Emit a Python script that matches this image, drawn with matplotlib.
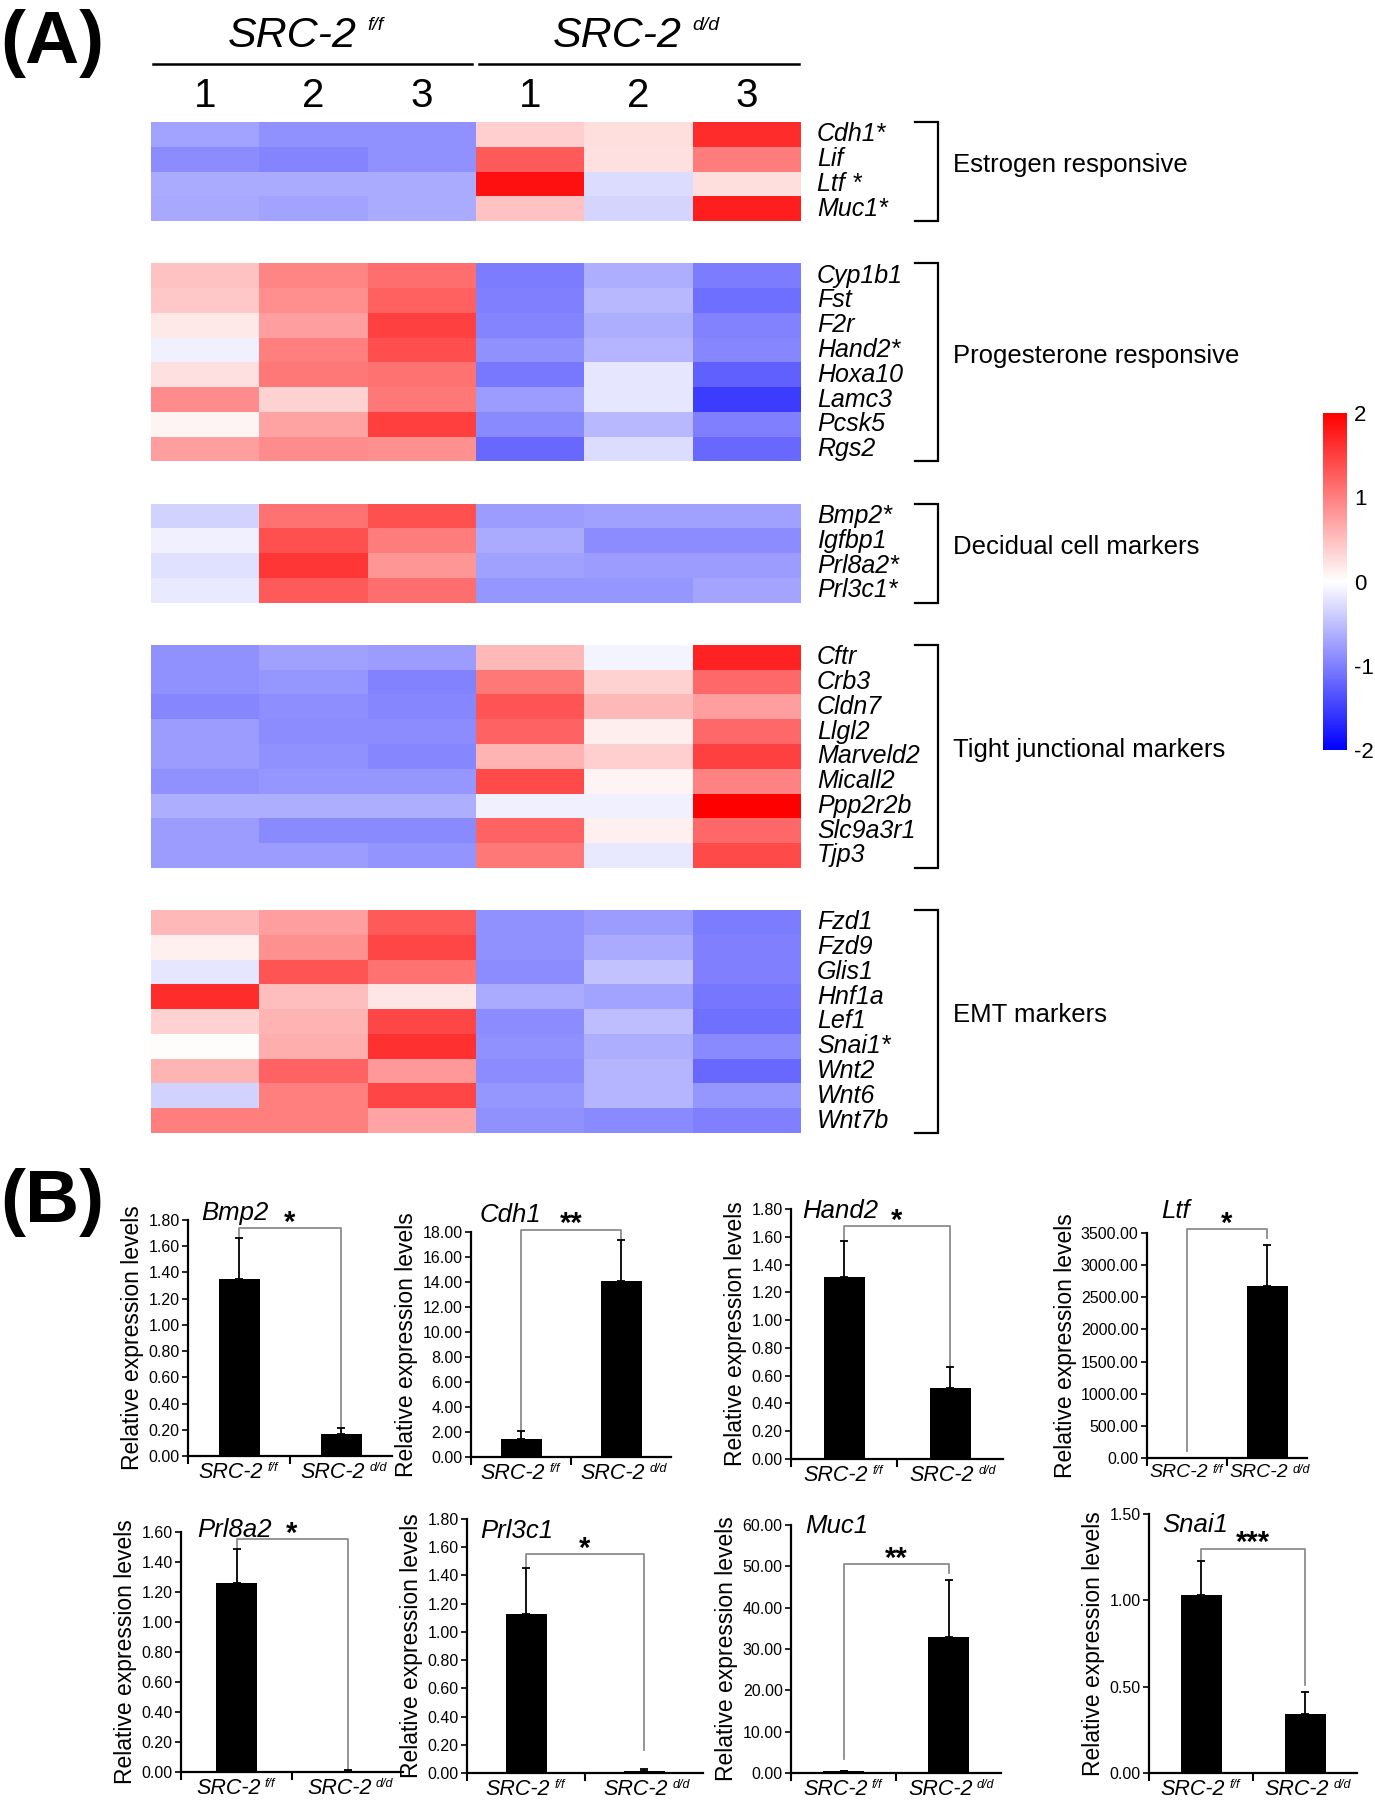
import numpy as np
import matplotlib
matplotlib.use('Agg')
import matplotlib.pyplot as plt
from matplotlib import transforms

plt.rcParams['font.family'] = ['Liberation Sans', 'DejaVu Sans']
plt.rcParams['axes.unicode_minus'] = False

# ---------------- data: heatmap (z-scores) ----------------
samples = ['1', '2', '3', '1', '2', '3']
groups = ['SRC-2', 'SRC-2']
group_sup = ['f/f', 'd/d']

estrogen_genes = ['Cdh1*', 'Lif', 'Ltf *', 'Muc1*']
estrogen_vals = [[-0.72, -0.86, -0.86, 0.38, 0.26, 1.65],
                 [-0.90, -0.96, -0.86, 1.29, 0.24, 1.02],
                 [-0.67, -0.67, -0.67, 1.86, -0.27, 0.26],
                 [-0.68, -0.72, -0.67, 0.47, -0.33, 1.76]]

progesterone_genes = ['Cyp1b1', 'Fst', 'F2r', 'Hand2*', 'Hoxa10', 'Lamc3', 'Pcsk5', 'Rgs2']
progesterone_vals = [[0.47, 0.96, 1.14, -1.02, -0.63, -1.02],
                     [0.43, 0.88, 1.24, -1.00, -0.55, -1.14],
                     [0.18, 0.75, 1.49, -0.96, -0.63, -0.98],
                     [-0.12, 1.00, 1.39, -0.86, -0.59, -0.94],
                     [0.24, 1.06, 1.10, -1.06, -0.20, -1.25],
                     [0.90, 0.35, 1.06, -0.78, -0.20, -1.53],
                     [0.08, 0.73, 1.51, -0.92, -0.55, -1.00],
                     [0.75, 0.90, 0.86, -1.18, -0.27, -1.18]]

decidual_genes = ['Bmp2*', 'Igfbp1', 'Prl8a2*', 'Prl3c1*']
decidual_vals = [[-0.35, 1.10, 1.37, -0.78, -0.75, -0.75],
                 [-0.12, 1.36, 1.02, -0.67, -0.90, -0.90],
                 [-0.24, 1.57, 0.82, -0.75, -0.78, -0.78],
                 [-0.16, 1.29, 1.14, -0.82, -0.82, -0.71]]

tight_genes = ['Cftr', 'Crb3', 'Cldn7', 'Llgl2', 'Marveld2', 'Micall2', 'Ppp2r2b', 'Slc9a3r1', 'Tjp3']
tight_vals = [[-0.86, -0.75, -0.78, 0.56, -0.08, 1.73],
              [-0.86, -0.82, -0.98, 1.06, 0.35, 1.18],
              [-0.94, -0.88, -0.94, 1.33, 0.55, 0.75],
              [-0.78, -0.90, -0.90, 1.22, 0.13, 1.18],
              [-0.78, -0.86, -0.94, 0.59, 0.39, 1.49],
              [-0.86, -0.82, -0.82, 1.41, 0.08, 0.98],
              [-0.63, -0.63, -0.63, -0.12, -0.12, 2.00],
              [-0.78, -0.92, -0.92, 1.22, 0.12, 1.18],
              [-0.78, -0.78, -0.84, 1.06, -0.18, 1.41]]

emt_genes = ['Fzd1', 'Fzd9', 'Glis1', 'Hnf1a', 'Lef1', 'Snai1*', 'Wnt2', 'Wnt6', 'Wnt7b']
emt_vals = [[0.56, 0.75, 1.29, -0.86, -0.78, -1.02],
            [0.12, 0.86, 1.45, -0.86, -0.67, -1.00],
            [-0.20, 1.33, 1.10, -0.90, -0.47, -1.00],
            [1.65, 0.51, 0.20, -0.67, -0.72, -1.07],
            [0.35, 0.59, 1.45, -0.90, -0.51, -1.12],
            [0.02, 0.63, 1.62, -0.86, -0.63, -0.92],
            [0.59, 1.22, 0.81, -0.90, -0.59, -1.18],
            [-0.35, 1.00, 1.45, -0.82, -0.59, -0.82],
            [1.00, 1.00, 0.71, -0.86, -0.92, -1.00]]

block_labels = ['Estrogen responsive', 'Progesterone responsive', 'Decidual cell markers',
                'Tight junctional markers', 'EMT markers']
cbar_ticks = [-2, -1, 0, 1, 2]

# ---------------- data: qPCR bar charts ----------------
bar_genes = ['Bmp2', 'Cdh1', 'Hand2', 'Ltf', 'Prl8a2', 'Prl3c1', 'Muc1', 'Snai1']
bar_groups = ['SRC-2', 'SRC-2']
mean_ff = [1.35, 1.45, 1.31, 1.0, 1.26, 1.125, 0.4, 1.03]
mean_dd = [0.165, 14.1, 0.51, 2675.0, 0.008, 0.015, 32.9, 0.343]
err_ff = [0.31, 0.65, 0.26, 0.0, 0.23, 0.33, 0.2, 0.195]
err_dd = [0.05, 3.3, 0.15, 640.0, 0.004, 0.015, 13.8, 0.127]
y_max = [1.8, 18, 1.8, 3500, 1.6, 1.8, 60, 1.5]
y_step = [0.2, 2, 0.2, 500, 0.2, 0.2, 10, 0.5]
stars = ['*', '**', '*', '*', '*', '*', '**', '***']
bracket_y = [1.74, 18.2, 1.675, 3562, 1.553, 1.552, 50.6, 1.30]
bracket_left_bottom = [1.66, 2.1, 1.567, 103, 1.49, 1.457, 3.4, 1.226]
bracket_right_bottom = [0.22, 17.4, 0.66, 3428, 0.016, 0.16, 48.4, 0.508]

# ---------------- layout ----------------
W, H = 1375, 1800
fig = plt.figure(figsize=(W / 100, H / 100), dpi=100)


def fx(x):
    return x / W


def fy(y):
    return 1 - y / H


def rect(l, t, r, b):
    return [l / W, 1 - b / H, (r - l) / W, (b - t) / H]


fig.text(fx(0), fy(63), '(A)', fontsize=54, fontweight='bold', va='baseline', ha='left')
fig.text(fx(0), fy(1222), '(B)', fontsize=54, fontweight='bold', va='baseline', ha='left')

# ---------------- heatmap ----------------
hm = fig.add_axes(rect(151, 122, 801, 1133))
blocks = [(block_labels[0], estrogen_genes, estrogen_vals),
          (block_labels[1], progesterone_genes, progesterone_vals),
          (block_labels[2], decidual_genes, decidual_vals),
          (block_labels[3], tight_genes, tight_vals),
          (block_labels[4], emt_genes, emt_vals)]
gap = 1.7
tad = transforms.blended_transform_factory(hm.transAxes, hm.transData)
tdf = transforms.blended_transform_factory(hm.transData, fig.transFigure)
y0 = 0
mesh = None
for label, genes, vals in blocks:
    n = len(genes)
    mesh = hm.pcolormesh(np.arange(len(samples) + 1), y0 + np.arange(n + 1), np.array(vals),
                         cmap='bwr', vmin=-2, vmax=2)
    for i, g in enumerate(genes):
        hm.text(1.0246, y0 + i + 0.5, g, transform=tad, ha='left', va='center',
                fontsize=18, style='italic', clip_on=False)
    hm.plot([1.175, 1.211, 1.211, 1.175], [y0, y0, y0 + n, y0 + n], transform=tad,
            color='black', lw=1.6, clip_on=False, solid_joinstyle='miter')
    hm.text(1.234, y0 + n / 2 - 0.25, label, transform=tad, ha='left', va='center', fontsize=18.5)
    y0 += n + gap
total = y0 - gap
hm.set_xlim(0, len(samples))
hm.set_ylim(total, 0)
hm.axis('off')

# header
hm.plot([0.02, 2.96], [fy(64)] * 2, transform=tdf, color='black', lw=1.8, clip_on=False)
hm.plot([3.03, 5.98], [fy(64)] * 2, transform=tdf, color='black', lw=1.8, clip_on=False)
for i, s in enumerate(samples):
    hm.text(i + 0.5, fy(107), s, transform=tdf, ha='center', va='baseline', fontsize=29)
for gi, (g, sup) in enumerate(zip(groups, group_sup)):
    t = hm.text(1.5 + 3 * gi - 0.2, fy(47), g, transform=tdf, ha='center', va='baseline',
                fontsize=31, style='italic')
    hm.annotate(sup, xy=(1, 1), xycoords=t, xytext=(8, -1), textcoords='offset points',
                ha='left', va='top', fontsize=14, style='italic')

# colorbar
cax = fig.add_axes(rect(1323, 413, 1347, 750))
cb = fig.colorbar(mesh, cax=cax, ticks=cbar_ticks)
cb.outline.set_visible(False)
cb.set_ticklabels([str(t) for t in cbar_ticks])
cax.tick_params(length=0, labelsize=16, pad=5)

# ---------------- bar charts ----------------
bar_layout = [  # left, top(ymax), right, bottom(0) in px; title x, title baseline; xlabel size
    (188, 1220, 392, 1456, 201, 1220, 15.5),
    (471, 1232, 671, 1457, 480, 1222, 15.5),
    (791, 1209, 1003, 1459, 802, 1218, 15.5),
    (1147, 1233, 1307, 1458, 1161, 1218, 14),
    (181, 1532, 403, 1772, 197, 1537, 15.5),
    (467, 1519, 703, 1773, 480, 1538, 15.5),
    (791, 1525, 1001, 1773, 805, 1533, 15.5),
    (1149, 1514, 1357, 1773, 1162, 1532, 15.5),
]

for k, gene in enumerate(bar_genes):
    l, t, r, b, tx, tb, xls = bar_layout[k]
    ax = fig.add_axes(rect(l, t, r, b))
    cat_px = (r - l) / 2.0
    width = 41.0 / cat_px
    x = np.arange(2)
    means = [mean_ff[k], mean_dd[k]]
    errs = [err_ff[k], err_dd[k]]
    ax.bar(x, means, width=width, color='black', zorder=2)
    ax.errorbar(x, means, yerr=[[0, 0], errs], fmt='none', ecolor='black', elinewidth=1.3,
                capsize=3, capthick=1.3, zorder=3)
    ax.plot([0, 0, 1, 1], [bracket_left_bottom[k], bracket_y[k], bracket_y[k], bracket_right_bottom[k]],
            color='#8c8c8c', lw=1.3, clip_on=False, zorder=1)
    ax.annotate(stars[k], xy=(0.5, bracket_y[k]), xytext=(0, -2), textcoords='offset points',
                ha='center', va='baseline', fontsize=21, fontweight='bold', annotation_clip=False)
    ax.set_xlim(-0.5, 1.5)
    ax.set_ylim(0, y_max[k])
    ticks = np.arange(0, y_max[k] + y_step[k] / 2, y_step[k])
    ax.set_yticks(ticks)
    ax.set_yticklabels(['%.2f' % v for v in ticks])
    ax.set_xticks([-0.5, 0.5])
    ax.set_xticklabels(['', ''])
    ax.tick_params(axis='x', direction='out', length=6, width=1.5)
    ax.tick_params(axis='y', direction='out', length=4, width=1.2, labelsize=11.5, pad=2)
    for sp in ['top', 'right']:
        ax.spines[sp].set_visible(False)
    for sp in ['left', 'bottom']:
        ax.spines[sp].set_linewidth(1.6)
    ax.set_ylabel('Relative expression levels', fontsize=16.5, labelpad=3)
    ax.patch.set_alpha(0)
    for i, (g, sup) in enumerate(zip(bar_groups, group_sup)):
        mt = ax.annotate(g, xy=(i, 0), xycoords=('data', 'axes fraction'), xytext=(-6, -4),
                         textcoords='offset points', ha='center', va='top', fontsize=xls,
                         style='italic', annotation_clip=False)
        ax.annotate(sup, xy=(1, 1), xycoords=mt, xytext=(3, 0), textcoords='offset points',
                    ha='left', va='top', fontsize=9, style='italic')
    fig.text(fx(tx), fy(tb), gene, fontsize=18.5, style='italic', va='baseline', ha='left')

fig.savefig('out.png', dpi=100)
